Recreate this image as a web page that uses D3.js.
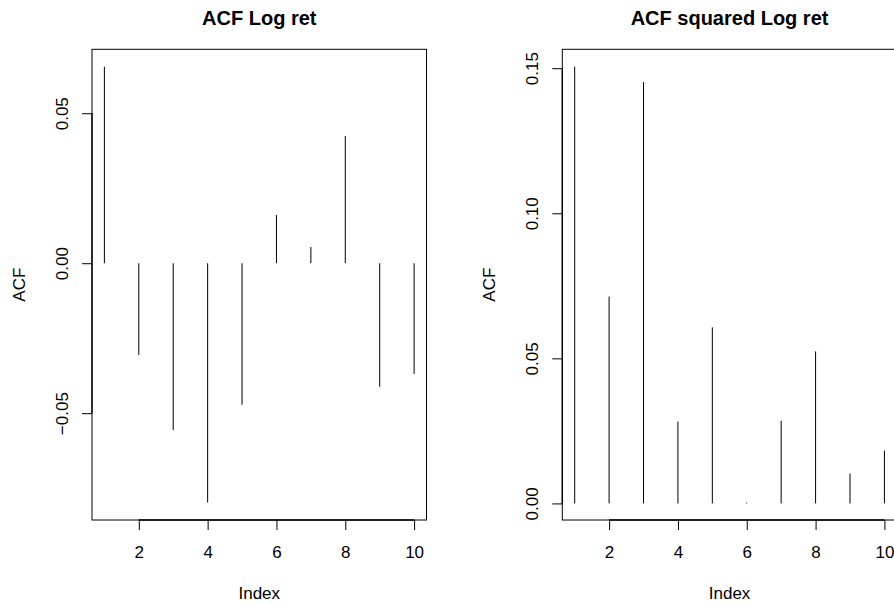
<!DOCTYPE html>
<html><head><meta charset="utf-8">
<script src="https://cdn.jsdelivr.net/npm/d3@7"></script>
<style>
html,body{margin:0;padding:0;background:#fff;}
svg{display:block;font-family:"Liberation Sans",Arial,Helvetica,sans-serif;}
</style></head>
<body>
<svg id="chart" width="894" height="603"></svg>
<script>
const lags = [1,2,3,4,5,6,7,8,9,10];
const acfLogRet = [0.0655,-0.0306,-0.0556,-0.0798,-0.0472,0.0161,0.0054,0.0424,-0.0412,-0.0369];
const acfSqLogRet = [0.1505,0.0713,0.1452,0.0282,0.0607,0.0003,0.0285,0.0524,0.0103,0.0182];
const xTicks = [2,4,6,8,10];
const yTicksLeft = [-0.05,0.00,0.05];
const yTicksRight = [0.00,0.05,0.10,0.15];
const titles = ["ACF Log ret","ACF squared Log ret"];

const svg = d3.select("#chart");
const fmt = v => (v < 0 ? "\u2212" : "") + Math.abs(v).toFixed(2);
const FS = 17;

function rRange(vals){
  const [mn,mx] = d3.extent(vals);
  const r = mx - mn;
  return [mn - 0.04*r, mx + 0.04*r];
}

function panel(left, values, yTicks, title){
  const top = 49.3, bottom = 520, width = 334.5;
  const right = left + width;
  const x = d3.scaleLinear().domain(rRange(lags)).range([left, right]);
  const y = d3.scaleLinear().domain(rRange(values)).range([bottom, top]);
  const g = svg.append("g");

  g.append("rect").attr("x", left).attr("y", top).attr("width", width).attr("height", bottom-top)
    .attr("fill","none").attr("stroke","#000").attr("stroke-width",1);

  g.selectAll("line.bar").data(lags).join("line").attr("class","bar")
    .attr("x1", d => x(d)).attr("x2", d => x(d))
    .attr("y1", y(0)).attr("y2", (d,i) => y(values[i]))
    .attr("stroke","#000").attr("stroke-width",1);

  const xa = g.append("g").attr("transform",`translate(0,${bottom})`)
    .call(d3.axisBottom(x).tickValues(xTicks).tickSize(10).tickPadding(16).tickFormat(d3.format("d")));
  xa.select(".domain").attr("d", `M${x(xTicks[0])},0H${x(xTicks[xTicks.length-1])}`).attr("stroke-width",1.3);
  xa.selectAll("text").attr("font-size",FS).attr("font-family","Liberation Sans, Arial, sans-serif").attr("fill","#000");

  const ya = g.append("g").attr("transform",`translate(${left},0)`)
    .call(d3.axisLeft(y).tickValues(yTicks).tickSize(10).tickFormat(fmt));
  ya.select(".domain").attr("d", `M0,${y(yTicks[0])}V${y(yTicks[yTicks.length-1])}`).attr("stroke-width",1.3);
  ya.selectAll("text")
    .attr("font-size",FS).attr("font-family","Liberation Sans, Arial, sans-serif").attr("fill","#000")
    .attr("x",null).attr("dy",null).attr("y",null)
    .attr("text-anchor","middle")
    .attr("transform","translate(-24.5,0) rotate(-90)");

  svg.append("text").attr("x",(left+right)/2).attr("y",25).attr("text-anchor","middle")
    .attr("font-size",20).attr("font-weight","bold").text(title);
  svg.append("text").attr("x",(left+right)/2).attr("y",599).attr("text-anchor","middle")
    .attr("font-size",FS).text("Index");
  svg.append("text").attr("transform",`translate(${left-67},${(top+bottom)/2}) rotate(-90)`)
    .attr("text-anchor","middle").attr("font-size",FS).text("ACF");
}

panel(92, acfLogRet, yTicksLeft, titles[0]);
panel(562.3, acfSqLogRet, yTicksRight, titles[1]);
</script>
</body></html>
